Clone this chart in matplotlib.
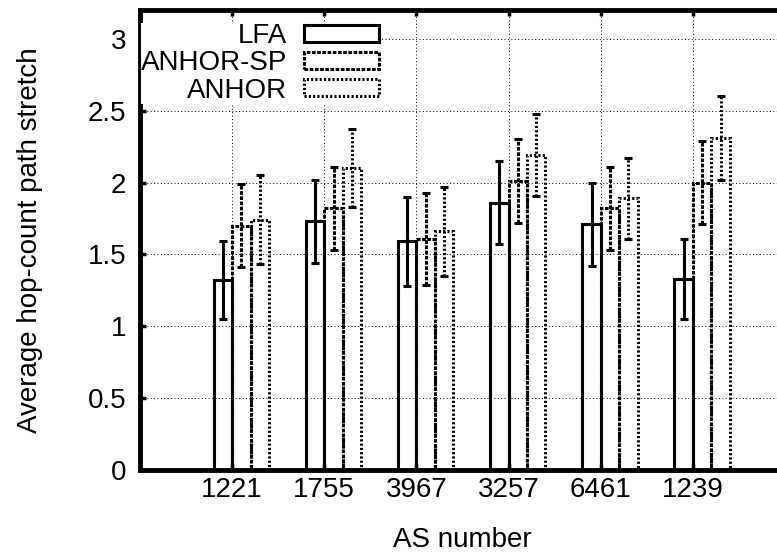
import numpy as np
import matplotlib
matplotlib.use("Agg")
import matplotlib.pyplot as plt
from matplotlib.patches import Rectangle

plt.rcParams["font.family"] = ["Liberation Sans", "DejaVu Sans"]
plt.rcParams["font.size"] = 20

AS_NUMBERS = ["1221", "1755", "3967", "3257", "6461", "1239"]
SERIES = ["LFA", "ANHOR-SP", "ANHOR"]

lfa_mean = [1.32, 1.73, 1.59, 1.86, 1.71, 1.33]
lfa_err = [0.27, 0.29, 0.31, 0.29, 0.29, 0.28]
sp_mean = [1.70, 1.82, 1.61, 2.01, 1.82, 2.00]
sp_err = [0.29, 0.29, 0.32, 0.29, 0.29, 0.29]
anhor_mean = [1.74, 2.10, 1.66, 2.19, 1.89, 2.31]
anhor_err = [0.31, 0.27, 0.31, 0.285, 0.28, 0.29]

MEANS = [lfa_mean, sp_mean, anhor_mean]
ERRS = [lfa_err, sp_err, anhor_err]
OFFSETS = [-0.1, 0.1, 0.3]
STYLES = ["solid", (0, (1.2, 0.5)), (0, (0.7, 0.7))]
BAR_LW = 2.2

fig = plt.figure(figsize=(7.77, 5.59), dpi=100)
ax = fig.add_axes([140 / 777, 89 / 559, 645 / 777, 460 / 559])

x = np.arange(len(AS_NUMBERS))

handles = []
for i, name in enumerate(SERIES):
    ax.bar(x + OFFSETS[i], MEANS[i], width=0.2, fill=False, edgecolor="black",
           linewidth=BAR_LW, linestyle=STYLES[i], zorder=3)
    eb = ax.errorbar(x + OFFSETS[i], MEANS[i], yerr=ERRS[i], fmt="none",
                     ecolor="black", elinewidth=BAR_LW, capsize=3.2,
                     capthick=BAR_LW, zorder=4)
    eb[2][0].set_linestyle(STYLES[i])
    handles.append(Rectangle((0, 0), 1, 1, fill=False, edgecolor="black",
                             linewidth=BAR_LW, linestyle=STYLES[i], label=name))

ax.set_xlim(-1, 6)
ax.set_ylim(0, 3.2)
ax.set_xticks(x)
ax.set_xticklabels(AS_NUMBERS)
ax.set_yticks([0, 0.5, 1, 1.5, 2, 2.5, 3])
ax.set_yticklabels(["0", "0.5", "1", "1.5", "2", "2.5", "3"])

ax.grid(True, color="black", linestyle=(0, (1, 2.5)), linewidth=0.7, zorder=0)
ax.set_axisbelow(True)

for s in ax.spines.values():
    s.set_linewidth(3.5)

ax.tick_params(axis="both", direction="in", length=4, width=2.5,
               top=True, right=True, labelsize=20)
ax.tick_params(axis="y", pad=10)
ax.tick_params(axis="x", pad=5)

ax.set_xlabel("AS number", fontsize=20, labelpad=17)
ax.set_ylabel("Average hop-count path stretch", fontsize=20, labelpad=32)

leg = ax.legend(handles=handles, loc="upper right", markerfirst=False,
                bbox_to_anchor=(393 / 777, 1 - 9 / 559),
                bbox_transform=fig.transFigure, borderpad=0.0,
                handlelength=2.7, handleheight=0.57, handletextpad=0.6,
                labelspacing=0.05, fontsize=20, frameon=True, fancybox=False,
                framealpha=1.0, facecolor="white", edgecolor="none")
leg.set_zorder(5)

fig.savefig("out.png", dpi=100)
